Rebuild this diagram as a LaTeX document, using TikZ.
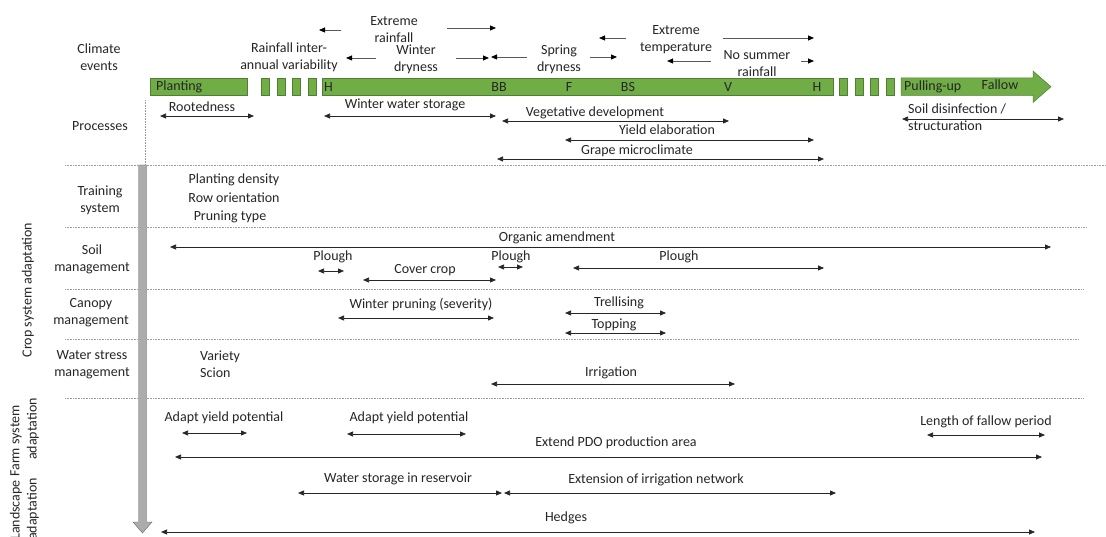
\documentclass[tikz,border=0pt]{standalone}
\usepackage{fontspec}
\setmainfont{Carlito}
\usetikzlibrary{arrows.meta}

\definecolor{barfill}{HTML}{70AD47}
\definecolor{barline}{HTML}{507E32}
\definecolor{txt}{HTML}{262626}

% timeline span: name, x start, x end, y, style
\newcommand\spanline[5]{%
  \coordinate (#1-a) at (#2,#4);
  \coordinate (#1-b) at (#3,#4);
  \draw[#5] (#1-a) -- (#1-b);}

\tikzset{
  every node/.style={font=\fontsize{14}{17}\selectfont, inner sep=0pt, text=txt},
  lbl/.style={align=center},
  barbox/.style={fill=barfill, draw=barline, line width=0.5pt},
  sep/.style={draw=gray!75, line width=0.7pt, dash pattern=on 0.8pt off 0.8pt},
  twohead/.style={{Triangle[length=6pt,width=5pt]}-{Triangle[length=6pt,width=5pt]}, draw=black!85, line width=0.75pt},
  onehead/.style={-{Triangle[length=6pt,width=5pt,color=black]}, draw=black!65, line width=0.8pt},
}

\begin{document}
\begin{tikzpicture}[x=1pt,y=-1pt]
\clip (0,0) rectangle (1106,537);
\fill[white] (0,0) rectangle (1106,537);

% ---------- row labels ----------
\node[lbl] (climate) at (99,57) {Climate\\events};
\node[lbl] (processes) at (100,126) {Processes};
\node[lbl] (training) at (100,200.5) {Training\\system};
\node[lbl] (soil) at (92,259.5) {Soil\\management};
\node[lbl] (canopy) at (91,312.5) {Canopy\\management};
\node[lbl] (water) at (92,365) {Water stress\\management};
\node[rotate=90] (crop) at (28,290) {Crop system adaptation};
\node[rotate=90] (farmA) at (16,441) {Farm system};
\node[rotate=90] (farmB) at (33,429) {adaptation};
\node[rotate=90] (landA) at (16,510) {Landscape};
\node[rotate=90] (landB) at (33,509) {adaptation};

% ---------- separators ----------
\draw[sep] (65,165) -- (1106,165);
\draw[sep] (65,227) -- (1086,227);
\draw[sep] (65,289) -- (1083,289);
\draw[sep] (65,339) -- (1079,339);
\draw[sep] (65,398) -- (1083,398);
\draw[sep] (145,100) -- (145,165);

% ---------- grey downward arrow ----------
\filldraw[fill=gray!65, draw=gray!80!black, line width=0.4pt]
  (138.5,165) -- (146.5,165) -- (146.5,522) -- (152,522) -- (142.5,533)
  -- (133,522) -- (138.5,522) -- cycle;

% ---------- phenology bar ----------
\draw[barbox] (150,78) rectangle (247,95.5);
\foreach \x in {261,277,292,308} \draw[barbox] (\x,78) rectangle ++(8,17.5);
\draw[barbox] (322,78) rectangle (833,95.5);
\foreach \x in {839,855,870,886} \draw[barbox] (\x,78) rectangle ++(8,17.5);
\draw[barbox] (901,78) -- (1033,78) -- (1033,71) -- (1051,86.75) -- (1033,102.5)
  -- (1033,95.5) -- (901,95.5) -- cycle;

\node[anchor=west] (planting) at (156,87) {Planting};
\node[anchor=west] (h1) at (324,87) {H};
\node (bb) at (499,87) {BB};
\node (f) at (569,87) {F};
\node (bs) at (628,87) {BS};
\node (v) at (728,87) {V};
\node (h2) at (817,87) {H};
\node[anchor=west] (pull) at (904,87) {Pulling-up};
\node (fallow) at (1000,85) {Fallow};

% ---------- climate events ----------
\node[lbl] (rainvar) at (289,57.5) {Rainfall inter-\\annual variability};
\node[lbl] (exrain) at (394,29.5) {Extreme\\rainfall};
\node[lbl] (wdry) at (416,59) {Winter\\dryness};
\node[lbl] (sdry) at (559,59) {Spring\\dryness};
\node[lbl] (extemp) at (676,39.5) {Extreme\\temperature};
\node[lbl] (nosum) at (757,63.5) {No summer\\rainfall};

\spanline{erL}{341}{319}{30}{onehead}
\spanline{erR}{447}{496}{28}{onehead}
\spanline{wdL}{376}{346}{58}{onehead}
\spanline{wdR}{456}{489}{58}{onehead}
\spanline{sdL}{527}{491}{57}{onehead}
\spanline{sdR}{590}{617}{57}{onehead}
\spanline{etL}{626}{599}{38}{onehead}
\spanline{etR}{723}{814}{38}{onehead}
\spanline{nsL}{711}{667}{61}{onehead}
\spanline{nsR}{801}{814}{61}{onehead}

% ---------- processes ----------
\node (root) at (202,107) {Rootedness};
\spanline{root}{160}{254}{116}{twohead}
\node (wws) at (405,105) {Winter water storage};
\spanline{wws}{324}{496}{116}{twohead}
\node (veg) at (595,113) {Vegetative development};
\spanline{veg}{502}{729}{121}{twohead}
\node (yield) at (667,130) {Yield elaboration};
\spanline{yield}{565}{814}{140}{twohead}
\node (grape) at (637,151) {Grape microclimate};
\spanline{grape}{497}{824}{159}{twohead}
\node[anchor=west, align=left] (disinf) at (908,117) {Soil disinfection /\\structuration};
\spanline{disinf}{902}{1064}{119}{twohead}

% ---------- training system ----------
\node (density) at (234,180) {Planting density};
\node (roworient) at (234,198) {Row orientation};
\node (pruntype) at (230,217) {Pruning type};

% ---------- soil management ----------
\node (organic) at (557,238) {Organic amendment};
\spanline{organic}{170}{1051}{247}{twohead}
\node (ploughA) at (333,257) {Plough};
\spanline{ploughA}{318}{344}{271}{twohead}
\node (cover) at (425,270) {Cover crop};
\spanline{cover}{363}{496}{280}{twohead}
\node (ploughB) at (511,257) {Plough};
\spanline{ploughB}{498}{523}{267}{twohead}
\node (ploughC) at (679,257) {Plough};
\spanline{ploughC}{573}{824}{268}{twohead}

% ---------- canopy management ----------
\node (wprune) at (421,305) {Winter pruning (severity)};
\spanline{wprune}{338}{494}{318}{twohead}
\node (trellis) at (619,303) {Trellising};
\spanline{trellis}{565}{666}{313}{twohead}
\node (topping) at (614,325) {Topping};
\spanline{topping}{565}{666}{333}{twohead}

% ---------- water stress management ----------
\node[anchor=west] (variety) at (200,357) {Variety};
\node[anchor=west] (scion) at (200,373) {Scion};
\node (irrig) at (611,373) {Irrigation};
\spanline{irrig}{491}{735}{384}{twohead}

% ---------- farm system adaptation ----------
\node (aypA) at (224,418) {Adapt yield potential};
\spanline{aypA}{182}{247}{433}{twohead}
\node (aypB) at (409,418) {Adapt yield potential};
\spanline{aypB}{347}{466}{434}{twohead}
\node (fallowlen) at (986,422) {Length of fallow period};
\spanline{fallowlen}{927}{1045}{435}{twohead}
\node (pdo) at (616,443) {Extend PDO production area};
\spanline{pdo}{175}{1042}{457}{twohead}

% ---------- landscape adaptation ----------
\node (reservoir) at (398,479) {Water storage in reservoir};
\spanline{reservoir}{298}{502}{493}{twohead}
\node (network) at (656,480) {Extension of irrigation network};
\spanline{network}{504}{836}{493}{twohead}
\node (hedges) at (566,518) {Hedges};
\spanline{hedges}{161}{1035}{532}{twohead}
\end{tikzpicture}
\end{document}
